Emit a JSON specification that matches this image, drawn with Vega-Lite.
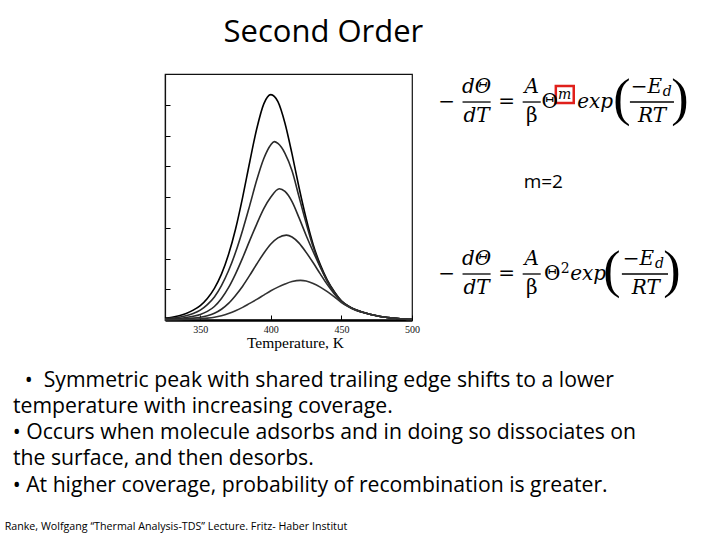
{
  "$schema": "https://vega.github.io/schema/vega-lite/v6.json",
  "width": 247,
  "height": 246,
  "autosize": {"type": "none"},
  "padding": {"left": 165, "top": 74, "right": 308, "bottom": 220},
  "background": "white",
  "config": {"view": {"stroke": "#111", "strokeWidth": 1.2}},
  "datasets": {
    "tds": [
      {"curve": 1, "T": 325, "v": 0.06}, {"curve": 1, "T": 330, "v": 0.09}, {"curve": 1, "T": 335, "v": 0.14}, {"curve": 1, "T": 340, "v": 0.21},
      {"curve": 1, "T": 345, "v": 0.32}, {"curve": 1, "T": 350, "v": 0.47}, {"curve": 1, "T": 355, "v": 0.70}, {"curve": 1, "T": 360, "v": 1.03},
      {"curve": 1, "T": 365, "v": 1.49}, {"curve": 1, "T": 370, "v": 2.13}, {"curve": 1, "T": 375, "v": 2.96}, {"curve": 1, "T": 380, "v": 3.99},
      {"curve": 1, "T": 385, "v": 5.13}, {"curve": 1, "T": 390, "v": 6.22}, {"curve": 1, "T": 395, "v": 7.03}, {"curve": 1, "T": 400, "v": 7.33},
      {"curve": 1, "T": 405, "v": 7.10}, {"curve": 1, "T": 410, "v": 6.40}, {"curve": 1, "T": 415, "v": 5.40}, {"curve": 1, "T": 420, "v": 4.30},
      {"curve": 1, "T": 425, "v": 3.30}, {"curve": 1, "T": 430, "v": 2.45}, {"curve": 1, "T": 435, "v": 1.80}, {"curve": 1, "T": 440, "v": 1.30},
      {"curve": 1, "T": 445, "v": 0.92}, {"curve": 1, "T": 450, "v": 0.62}, {"curve": 1, "T": 455, "v": 0.45}, {"curve": 1, "T": 460, "v": 0.33},
      {"curve": 1, "T": 465, "v": 0.25}, {"curve": 1, "T": 470, "v": 0.19}, {"curve": 1, "T": 475, "v": 0.14}, {"curve": 1, "T": 480, "v": 0.10},
      {"curve": 1, "T": 485, "v": 0.07}, {"curve": 1, "T": 490, "v": 0.05}, {"curve": 1, "T": 495, "v": 0.03}, {"curve": 1, "T": 500, "v": 0.02},

      {"curve": 2, "T": 325, "v": 0.04}, {"curve": 2, "T": 330, "v": 0.06}, {"curve": 2, "T": 335, "v": 0.09}, {"curve": 2, "T": 340, "v": 0.14},
      {"curve": 2, "T": 345, "v": 0.21}, {"curve": 2, "T": 350, "v": 0.32}, {"curve": 2, "T": 355, "v": 0.50}, {"curve": 2, "T": 360, "v": 0.75},
      {"curve": 2, "T": 365, "v": 1.12}, {"curve": 2, "T": 370, "v": 1.60}, {"curve": 2, "T": 375, "v": 2.20}, {"curve": 2, "T": 380, "v": 2.92},
      {"curve": 2, "T": 385, "v": 3.72}, {"curve": 2, "T": 390, "v": 4.55}, {"curve": 2, "T": 395, "v": 5.25}, {"curve": 2, "T": 400, "v": 5.70},
      {"curve": 2, "T": 402.5, "v": 5.80}, {"curve": 2, "T": 405, "v": 5.74}, {"curve": 2, "T": 410, "v": 5.42}, {"curve": 2, "T": 415, "v": 4.85},
      {"curve": 2, "T": 420, "v": 4.00}, {"curve": 2, "T": 425, "v": 3.15}, {"curve": 2, "T": 430, "v": 2.37}, {"curve": 2, "T": 435, "v": 1.75},
      {"curve": 2, "T": 440, "v": 1.27}, {"curve": 2, "T": 445, "v": 0.90}, {"curve": 2, "T": 450, "v": 0.62}, {"curve": 2, "T": 455, "v": 0.45},
      {"curve": 2, "T": 460, "v": 0.33}, {"curve": 2, "T": 465, "v": 0.25}, {"curve": 2, "T": 470, "v": 0.19}, {"curve": 2, "T": 475, "v": 0.14},
      {"curve": 2, "T": 480, "v": 0.10}, {"curve": 2, "T": 485, "v": 0.07}, {"curve": 2, "T": 490, "v": 0.05}, {"curve": 2, "T": 495, "v": 0.03},
      {"curve": 2, "T": 500, "v": 0.02},

      {"curve": 3, "T": 325, "v": 0.02}, {"curve": 3, "T": 330, "v": 0.03}, {"curve": 3, "T": 335, "v": 0.05}, {"curve": 3, "T": 340, "v": 0.08},
      {"curve": 3, "T": 345, "v": 0.12}, {"curve": 3, "T": 350, "v": 0.18}, {"curve": 3, "T": 355, "v": 0.28}, {"curve": 3, "T": 360, "v": 0.44},
      {"curve": 3, "T": 365, "v": 0.70}, {"curve": 3, "T": 370, "v": 1.05}, {"curve": 3, "T": 375, "v": 1.50}, {"curve": 3, "T": 380, "v": 2.02},
      {"curve": 3, "T": 385, "v": 2.58}, {"curve": 3, "T": 390, "v": 3.12}, {"curve": 3, "T": 395, "v": 3.62}, {"curve": 3, "T": 400, "v": 4.00},
      {"curve": 3, "T": 406, "v": 4.27}, {"curve": 3, "T": 410, "v": 4.18}, {"curve": 3, "T": 415, "v": 3.85}, {"curve": 3, "T": 420, "v": 3.32},
      {"curve": 3, "T": 425, "v": 2.75}, {"curve": 3, "T": 430, "v": 2.22}, {"curve": 3, "T": 435, "v": 1.72}, {"curve": 3, "T": 440, "v": 1.25},
      {"curve": 3, "T": 445, "v": 0.89}, {"curve": 3, "T": 450, "v": 0.61}, {"curve": 3, "T": 455, "v": 0.45}, {"curve": 3, "T": 460, "v": 0.33},
      {"curve": 3, "T": 465, "v": 0.25}, {"curve": 3, "T": 470, "v": 0.19}, {"curve": 3, "T": 475, "v": 0.14}, {"curve": 3, "T": 480, "v": 0.10},
      {"curve": 3, "T": 485, "v": 0.07}, {"curve": 3, "T": 490, "v": 0.05}, {"curve": 3, "T": 495, "v": 0.03}, {"curve": 3, "T": 500, "v": 0.02},

      {"curve": 4, "T": 325, "v": 0.01}, {"curve": 4, "T": 330, "v": 0.015}, {"curve": 4, "T": 335, "v": 0.025}, {"curve": 4, "T": 340, "v": 0.04},
      {"curve": 4, "T": 345, "v": 0.06}, {"curve": 4, "T": 350, "v": 0.09}, {"curve": 4, "T": 355, "v": 0.14}, {"curve": 4, "T": 360, "v": 0.22},
      {"curve": 4, "T": 365, "v": 0.35}, {"curve": 4, "T": 370, "v": 0.54}, {"curve": 4, "T": 375, "v": 0.80}, {"curve": 4, "T": 380, "v": 1.10},
      {"curve": 4, "T": 385, "v": 1.45}, {"curve": 4, "T": 390, "v": 1.82}, {"curve": 4, "T": 395, "v": 2.17}, {"curve": 4, "T": 400, "v": 2.47},
      {"curve": 4, "T": 405, "v": 2.67}, {"curve": 4, "T": 411, "v": 2.76}, {"curve": 4, "T": 415, "v": 2.70}, {"curve": 4, "T": 420, "v": 2.50},
      {"curve": 4, "T": 425, "v": 2.20}, {"curve": 4, "T": 430, "v": 1.86}, {"curve": 4, "T": 435, "v": 1.50}, {"curve": 4, "T": 440, "v": 1.15},
      {"curve": 4, "T": 445, "v": 0.85}, {"curve": 4, "T": 450, "v": 0.60}, {"curve": 4, "T": 455, "v": 0.44}, {"curve": 4, "T": 460, "v": 0.33},
      {"curve": 4, "T": 465, "v": 0.25}, {"curve": 4, "T": 470, "v": 0.19}, {"curve": 4, "T": 475, "v": 0.14}, {"curve": 4, "T": 480, "v": 0.10},
      {"curve": 4, "T": 485, "v": 0.07}, {"curve": 4, "T": 490, "v": 0.05}, {"curve": 4, "T": 495, "v": 0.03}, {"curve": 4, "T": 500, "v": 0.02},

      {"curve": 5, "T": 325, "v": 0.005}, {"curve": 5, "T": 330, "v": 0.008}, {"curve": 5, "T": 335, "v": 0.012}, {"curve": 5, "T": 340, "v": 0.018},
      {"curve": 5, "T": 345, "v": 0.027}, {"curve": 5, "T": 350, "v": 0.04}, {"curve": 5, "T": 355, "v": 0.06}, {"curve": 5, "T": 360, "v": 0.09},
      {"curve": 5, "T": 365, "v": 0.14}, {"curve": 5, "T": 370, "v": 0.21}, {"curve": 5, "T": 375, "v": 0.30}, {"curve": 5, "T": 380, "v": 0.41},
      {"curve": 5, "T": 385, "v": 0.54}, {"curve": 5, "T": 390, "v": 0.67}, {"curve": 5, "T": 395, "v": 0.81}, {"curve": 5, "T": 400, "v": 0.95},
      {"curve": 5, "T": 405, "v": 1.07}, {"curve": 5, "T": 410, "v": 1.17}, {"curve": 5, "T": 415, "v": 1.25}, {"curve": 5, "T": 421, "v": 1.29},
      {"curve": 5, "T": 425, "v": 1.27}, {"curve": 5, "T": 430, "v": 1.19}, {"curve": 5, "T": 435, "v": 1.07}, {"curve": 5, "T": 440, "v": 0.92},
      {"curve": 5, "T": 445, "v": 0.75}, {"curve": 5, "T": 450, "v": 0.57}, {"curve": 5, "T": 455, "v": 0.43}, {"curve": 5, "T": 460, "v": 0.32},
      {"curve": 5, "T": 465, "v": 0.25}, {"curve": 5, "T": 470, "v": 0.19}, {"curve": 5, "T": 475, "v": 0.14}, {"curve": 5, "T": 480, "v": 0.10},
      {"curve": 5, "T": 485, "v": 0.07}, {"curve": 5, "T": 490, "v": 0.05}, {"curve": 5, "T": 495, "v": 0.03}, {"curve": 5, "T": 500, "v": 0.02}
    ],
    "slide": [
      {"kind": "title", "text": "Second Order", "T": 437.2, "v": 9.05},
      {"kind": "bullet", "text": "•\u00a0\u00a0Symmetric peak with shared trailing edge shifts to a lower", "T": 225.6, "v": -2.19},
      {"kind": "bullet", "text": "temperature with increasing coverage.", "T": 217.3, "v": -3.03},
      {"kind": "bullet", "text": "• Occurs when molecule adsorbs and in doing so dissociates on", "T": 217.1, "v": -3.87},
      {"kind": "bullet", "text": "the surface, and then desorbs.", "T": 217.3, "v": -4.72},
      {"kind": "bullet", "text": "• At higher coverage, probability of recombination is greater.", "T": 217.1, "v": -5.58},
      {"kind": "cite", "text": "Ranke, Wolfgang “Thermal Analysis-TDS” Lecture. Fritz- Haber Institut", "T": 211.4, "v": -6.83},
      {"kind": "note", "text": "m=2", "T": 579.1, "v": 4.28},
      {"kind": "up", "text": "−", "T": 524.5, "v": 6.894},
      {"kind": "up", "text": "=", "T": 567.1, "v": 6.894},
      {"kind": "up", "text": "β", "T": 584.8, "v": 6.439},
      {"kind": "up", "text": "Θ", "T": 597.6, "v": 6.894},
      {"kind": "it", "text": "dΘ", "T": 545.8, "v": 7.382},
      {"kind": "it", "text": "dT", "T": 545.8, "v": 6.439},
      {"kind": "it", "text": "A", "T": 584.8, "v": 7.382},
      {"kind": "it", "text": "exp", "T": 629.8, "v": 6.894},
      {"kind": "it", "text": "−E", "T": 666.1, "v": 7.382},
      {"kind": "it", "text": "RT", "T": 670.0, "v": 6.439},
      {"kind": "paren", "text": "(", "T": 648.7, "v": 6.667},
      {"kind": "paren", "text": ")", "T": 689.9, "v": 6.667},
      {"kind": "small", "text": "m", "T": 608.2, "v": 7.187},
      {"kind": "small", "text": "d", "T": 680.9, "v": 7.284},
      {"kind": "up", "text": "−", "T": 524.5, "v": 1.301},
      {"kind": "up", "text": "=", "T": 567.1, "v": 1.301},
      {"kind": "up", "text": "β", "T": 584.8, "v": 0.846},
      {"kind": "up", "text": "Θ", "T": 599.4, "v": 1.301},
      {"kind": "it", "text": "dΘ", "T": 545.8, "v": 1.789},
      {"kind": "it", "text": "dT", "T": 545.8, "v": 0.846},
      {"kind": "it", "text": "A", "T": 584.8, "v": 1.789},
      {"kind": "it", "text": "exp", "T": 624.8, "v": 1.301},
      {"kind": "it", "text": "−E", "T": 660.4, "v": 1.789},
      {"kind": "it", "text": "RT", "T": 665.7, "v": 0.846},
      {"kind": "paren", "text": "(", "T": 641.6, "v": 1.073},
      {"kind": "paren", "text": ")", "T": 684.2, "v": 1.073},
      {"kind": "small", "text": "d", "T": 675.3, "v": 1.691},
      {"kind": "smallup", "text": "2", "T": 608.6, "v": 1.528}
    ],
    "bars": [
      {"T": 535.8, "T2": 555.7, "v": 7.089},
      {"T": 578.4, "T2": 591.2, "v": 7.089},
      {"T": 654.4, "T2": 685.6, "v": 7.089},
      {"T": 535.8, "T2": 555.7, "v": 1.496},
      {"T": 578.4, "T2": 591.2, "v": 1.496},
      {"T": 648.7, "T2": 681.4, "v": 1.496}
    ],
    "box": [
      {"T": 601.9, "T2": 614.6, "v": 7.610, "v2": 7.057}
    ]
  },
  "layer": [
    {
      "data": {"name": "tds"},
      "mark": {"type": "line", "interpolate": "monotone", "strokeWidth": 1.6},
      "encoding": {
        "x": {
          "field": "T", "type": "quantitative",
          "scale": {"domain": [325, 500], "nice": false, "zero": false},
          "axis": {
            "title": "Temperature, K", "values": [350, 400, 450, 500], "grid": false,
            "labelFont": "Liberation Serif", "labelFontSize": 10, "labelColor": "#111", "labelFlush": false,
            "labelPadding": 9,
            "titleFont": "Liberation Serif", "titleFontSize": 15.5, "titleFontWeight": "normal", "titleColor": "#000",
            "titlePadding": 1, "titleX": 130,
            "tickSize": -5, "tickColor": "#000", "domainColor": "#000", "domainWidth": 2.5
          }
        },
        "y": {
          "field": "v", "type": "quantitative",
          "scale": {"domain": [0, 8], "nice": false, "zero": false},
          "axis": {
            "title": null, "labels": false, "values": [1, 2, 3, 4, 5, 6, 7], "grid": false,
            "tickSize": -5, "tickColor": "#000", "domainColor": "#111", "domainWidth": 1.2
          }
        },
        "detail": {"field": "curve"},
        "color": {"field": "curve", "type": "nominal", "legend": null,
          "scale": {"domain": [1, 2, 3, 4, 5], "range": ["#000000", "#2a2a2a", "#2a2a2a", "#2a2a2a", "#333333"]}}
      }
    },
    {
      "data": {"name": "bars"},
      "mark": {"type": "rule", "strokeWidth": 1.3, "color": "#000"},
      "encoding": {
        "x": {"field": "T", "type": "quantitative", "scale": {"domain": [325, 500], "nice": false, "zero": false}},
        "x2": {"field": "T2"},
        "y": {"field": "v", "type": "quantitative", "scale": {"domain": [0, 8], "nice": false, "zero": false}}
      }
    },
    {
      "data": {"name": "box"},
      "mark": {"type": "rect", "filled": false, "stroke": "#e0201b", "strokeWidth": 2.5},
      "encoding": {
        "x": {"field": "T", "type": "quantitative", "scale": {"domain": [325, 500], "nice": false, "zero": false}},
        "x2": {"field": "T2"},
        "y": {"field": "v", "type": "quantitative", "scale": {"domain": [0, 8], "nice": false, "zero": false}},
        "y2": {"field": "v2"}
      }
    },
    {
      "data": {"name": "slide"},
      "transform": [{"filter": "datum.kind === 'title'"}],
      "mark": {"type": "text", "font": "Open Sans", "fontSize": 31, "align": "center", "baseline": "alphabetic", "color": "#000"},
      "encoding": {
        "x": {"field": "T", "type": "quantitative", "scale": {"domain": [325, 500], "nice": false, "zero": false}},
        "y": {"field": "v", "type": "quantitative", "scale": {"domain": [0, 8], "nice": false, "zero": false}},
        "text": {"field": "text"}
      }
    },
    {
      "data": {"name": "slide"},
      "transform": [{"filter": "datum.kind === 'bullet'"}],
      "mark": {"type": "text", "font": "Open Sans", "fontSize": 21.2, "align": "left", "baseline": "alphabetic", "color": "#000"},
      "encoding": {
        "x": {"field": "T", "type": "quantitative", "scale": {"domain": [325, 500], "nice": false, "zero": false}},
        "y": {"field": "v", "type": "quantitative", "scale": {"domain": [0, 8], "nice": false, "zero": false}},
        "text": {"field": "text"}
      }
    },
    {
      "data": {"name": "slide"},
      "transform": [{"filter": "datum.kind === 'cite'"}],
      "mark": {"type": "text", "font": "Open Sans", "fontSize": 10.7, "align": "left", "baseline": "alphabetic", "color": "#000"},
      "encoding": {
        "x": {"field": "T", "type": "quantitative", "scale": {"domain": [325, 500], "nice": false, "zero": false}},
        "y": {"field": "v", "type": "quantitative", "scale": {"domain": [0, 8], "nice": false, "zero": false}},
        "text": {"field": "text"}
      }
    },
    {
      "data": {"name": "slide"},
      "transform": [{"filter": "datum.kind === 'note'"}],
      "mark": {"type": "text", "font": "Open Sans", "fontSize": 19, "align": "left", "baseline": "alphabetic", "color": "#000"},
      "encoding": {
        "x": {"field": "T", "type": "quantitative", "scale": {"domain": [325, 500], "nice": false, "zero": false}},
        "y": {"field": "v", "type": "quantitative", "scale": {"domain": [0, 8], "nice": false, "zero": false}},
        "text": {"field": "text"}
      }
    },
    {
      "data": {"name": "slide"},
      "transform": [{"filter": "datum.kind === 'up'"}],
      "mark": {"type": "text", "font": "DejaVu Serif", "fontSize": 20, "align": "center", "baseline": "alphabetic", "color": "#000"},
      "encoding": {
        "x": {"field": "T", "type": "quantitative", "scale": {"domain": [325, 500], "nice": false, "zero": false}},
        "y": {"field": "v", "type": "quantitative", "scale": {"domain": [0, 8], "nice": false, "zero": false}},
        "text": {"field": "text"}
      }
    },
    {
      "data": {"name": "slide"},
      "transform": [{"filter": "datum.kind === 'it'"}],
      "mark": {"type": "text", "font": "DejaVu Serif", "fontStyle": "italic", "fontSize": 20, "align": "center", "baseline": "alphabetic", "color": "#000"},
      "encoding": {
        "x": {"field": "T", "type": "quantitative", "scale": {"domain": [325, 500], "nice": false, "zero": false}},
        "y": {"field": "v", "type": "quantitative", "scale": {"domain": [0, 8], "nice": false, "zero": false}},
        "text": {"field": "text"}
      }
    },
    {
      "data": {"name": "slide"},
      "transform": [{"filter": "datum.kind === 'paren'"}],
      "mark": {"type": "text", "font": "Liberation Serif", "fontSize": 52, "align": "center", "baseline": "alphabetic", "color": "#000"},
      "encoding": {
        "x": {"field": "T", "type": "quantitative", "scale": {"domain": [325, 500], "nice": false, "zero": false}},
        "y": {"field": "v", "type": "quantitative", "scale": {"domain": [0, 8], "nice": false, "zero": false}},
        "text": {"field": "text"}
      }
    },
    {
      "data": {"name": "slide"},
      "transform": [{"filter": "datum.kind === 'small'"}],
      "mark": {"type": "text", "font": "DejaVu Serif", "fontStyle": "italic", "fontSize": 14, "align": "center", "baseline": "alphabetic", "color": "#000"},
      "encoding": {
        "x": {"field": "T", "type": "quantitative", "scale": {"domain": [325, 500], "nice": false, "zero": false}},
        "y": {"field": "v", "type": "quantitative", "scale": {"domain": [0, 8], "nice": false, "zero": false}},
        "text": {"field": "text"}
      }
    },
    {
      "data": {"name": "slide"},
      "transform": [{"filter": "datum.kind === 'smallup'"}],
      "mark": {"type": "text", "font": "DejaVu Serif", "fontSize": 14, "align": "center", "baseline": "alphabetic", "color": "#000"},
      "encoding": {
        "x": {"field": "T", "type": "quantitative", "scale": {"domain": [325, 500], "nice": false, "zero": false}},
        "y": {"field": "v", "type": "quantitative", "scale": {"domain": [0, 8], "nice": false, "zero": false}},
        "text": {"field": "text"}
      }
    }
  ]
}
